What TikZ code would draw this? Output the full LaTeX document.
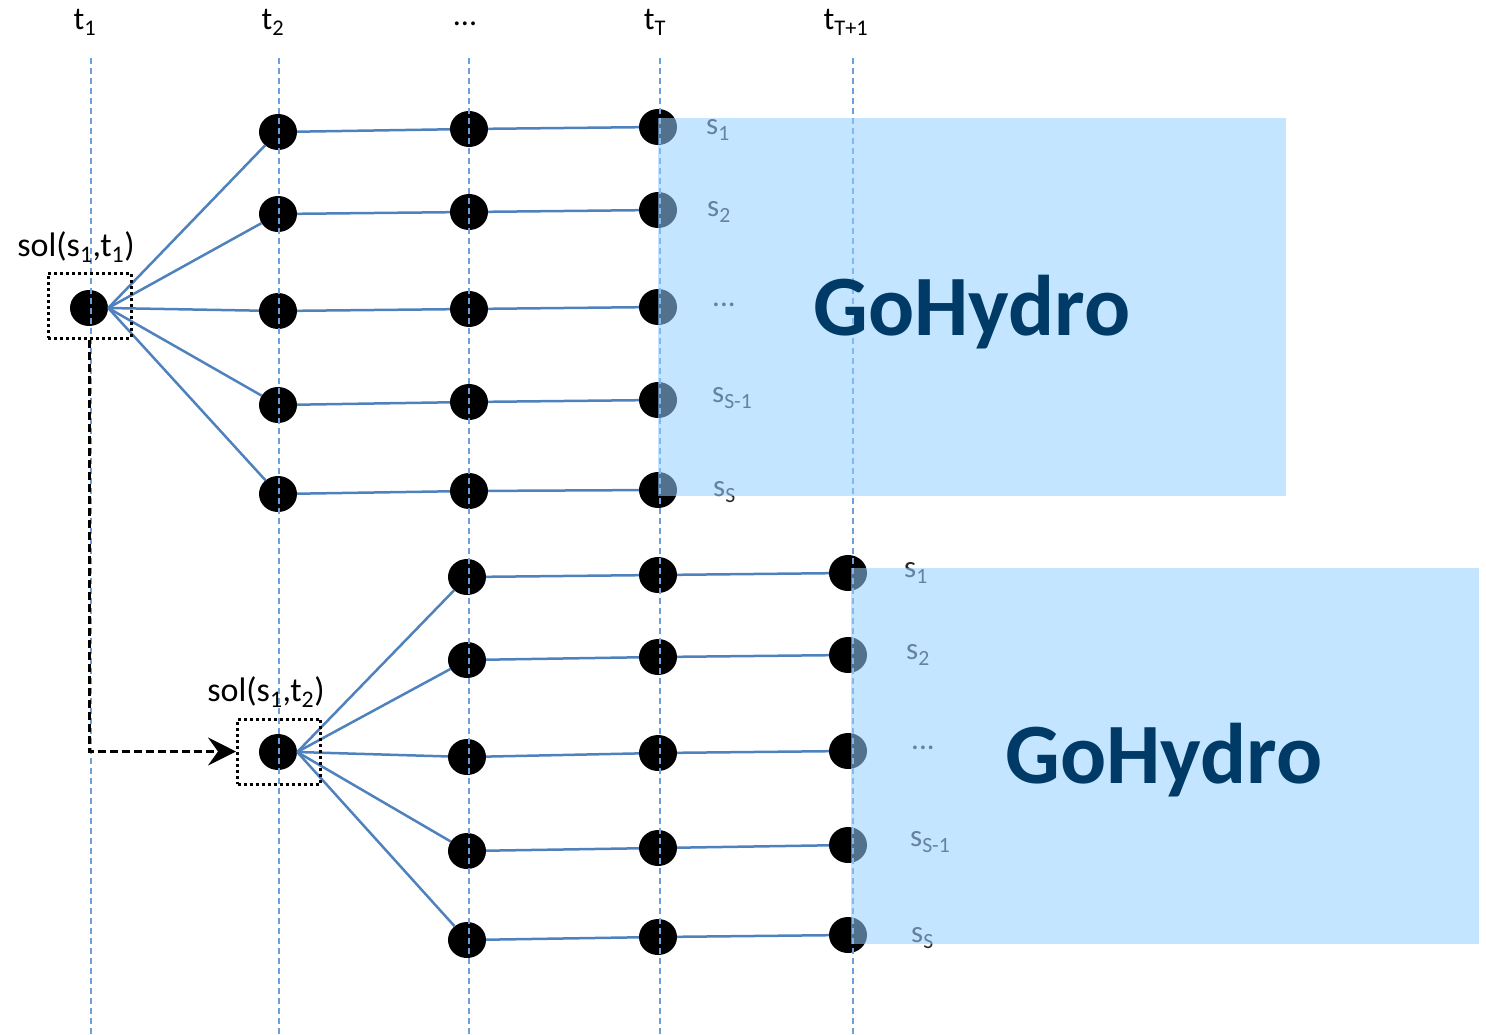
\documentclass[tikz,border=0pt]{standalone}
\usepackage{fontspec}
\setmainfont{Carlito}
\usetikzlibrary{arrows.meta,shapes.geometric}
\definecolor{edgeblue}{RGB}{79,129,189}
\definecolor{gridblue}{RGB}{110,158,218}
\definecolor{boxblue}{RGB}{148,207,255}
\definecolor{navy}{RGB}{0,59,104}
\definecolor{labgray}{RGB}{40,40,40}
\newcommand\mysub[1]{\textsubscript{#1}}
\begin{document}
\begin{tikzpicture}[x=1pt,y=-1pt,
  dot/.style={ellipse,fill=black,minimum width=38pt,minimum height=36pt,inner sep=0pt},
  edge/.style={draw=edgeblue,line width=2.5pt},
  gridline/.style={draw=gridblue,line width=1.5pt,dash pattern=on 6pt off 4pt},
  tlabel/.style={font=\fontsize{32}{38}\selectfont,text=black,inner sep=0pt},
  slabel/.style={font=\fontsize{31}{36}\selectfont,text=labgray,inner sep=0pt,anchor=west},
  sollabel/.style={font=\fontsize{34}{40}\selectfont,text=black,inner sep=0pt},
  solbox/.style={draw=black,line width=3pt,dash pattern=on 3pt off 3pt,minimum width=83pt,minimum height=65pt,inner sep=0pt},
  hydrobox/.style={fill=boxblue,fill opacity=0.55},
  hydro/.style={font=\fontsize{86}{94}\selectfont\bfseries,text=navy,inner sep=0pt},
  solarrow/.style={draw=black,line width=2.6pt,dash pattern=on 8pt off 4pt,-{Stealth[length=28pt,width=28pt,inset=10pt]}}
]
\useasboundingbox (0,0) rectangle (1486,1034);

% column labels
\node[tlabel] (lt1) at (85,22) {t\mysub{1}};
\node[tlabel] (lt2) at (273,22) {t\mysub{2}};
\node[tlabel] (ldots) at (465,24) {...};
\node[tlabel] (ltT) at (655,22) {t\mysub{T}};
\node[tlabel] (ltT1) at (846,22) {t\mysub{T+1}};

% top tree
\node[dot] (r1) at (89,308) {};
\foreach \i/\y in {1/132,2/214,3/311,4/405,5/494} \node[dot] (a\i) at (278,\y) {};
\foreach \i/\y in {1/129,2/212,3/309,4/402,5/491} \node[dot] (b\i) at (469,\y) {};
\foreach \i/\y in {1/127,2/210,3/307,4/400,5/490} \node[dot] (c\i) at (658,\y) {};
\foreach \i in {1,...,5} {
  \draw[edge] (r1.east) -- (a\i);
  \draw[edge] (a\i) -- (b\i);
  \draw[edge] (b\i) -- (c\i);
}

% bottom tree
\node[dot] (r2) at (278,752) {};
\foreach \i/\y in {1/577,2/660,3/757,4/851,5/940} \node[dot] (d\i) at (467,\y) {};
\foreach \i/\y in {1/575,2/657,3/753,4/848,5/937} \node[dot] (e\i) at (658,\y) {};
\foreach \i/\y in {1/573,2/655,3/751,4/845,5/935} \node[dot] (f\i) at (848,\y) {};
\foreach \i in {1,...,5} {
  \draw[edge] (r2.east) -- (d\i);
  \draw[edge] (d\i) -- (e\i);
  \draw[edge] (e\i) -- (f\i);
}

% scenario labels
\node[slabel] (s11) at (706,130) {s\mysub{1}};
\node[slabel] (s12) at (707,212) {s\mysub{2}};
\node[slabel] (s13) at (712,305) {...};
\node[slabel] (s14) at (712,398) {s\mysub{S-1}};
\node[slabel] (s15) at (713,492) {s\mysub{S}};
\node[slabel] (s21) at (904,573) {s\mysub{1}};
\node[slabel] (s22) at (906,655) {s\mysub{2}};
\node[slabel] (s23) at (911,748) {...};
\node[slabel] (s24) at (910,842) {s\mysub{S-1}};
\node[slabel] (s25) at (911,938) {s\mysub{S}};

% vertical time lines
\foreach \x in {91,279,469,660,853} \draw[gridline] (\x,58) -- (\x,1034);

% solution boxes
\node[sollabel] (sol1) at (76,247) {sol(s\mysub{1},t\mysub{1})};
\node[solbox] (box1) at (89.5,305.5) {};
\node[sollabel] (sol2) at (266,692) {sol(s\mysub{1},t\mysub{2})};
\node[solbox] (box2) at (279,751.5) {};
\draw[solarrow] (box1.south) |- (box2.west);

% GoHydro boxes
\fill[hydrobox] (658,118) rectangle (1286,496);
\fill[hydrobox] (851,568) rectangle (1479,944);
\node[hydro] (gh1) at (972,312) {GoHydro};
\node[hydro] (gh2) at (1164,760) {GoHydro};
\end{tikzpicture}
\end{document}
